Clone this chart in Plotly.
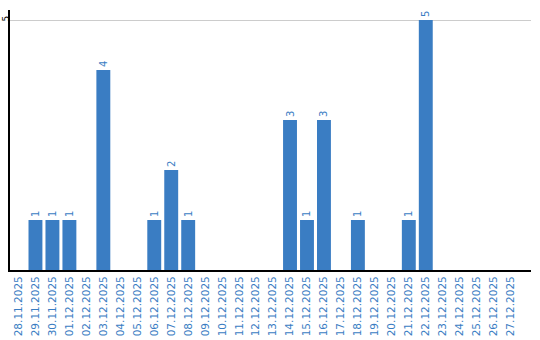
import plotly.graph_objects as go

dates = ["28.11.2025", "29.11.2025", "30.11.2025", "01.12.2025", "02.12.2025", "03.12.2025",
         "04.12.2025", "05.12.2025", "06.12.2025", "07.12.2025", "08.12.2025", "09.12.2025",
         "10.12.2025", "11.12.2025", "12.12.2025", "13.12.2025", "14.12.2025", "15.12.2025",
         "16.12.2025", "17.12.2025", "18.12.2025", "19.12.2025", "20.12.2025", "21.12.2025",
         "22.12.2025", "23.12.2025", "24.12.2025", "25.12.2025", "26.12.2025", "27.12.2025"]
values = [0, 1, 1, 1, 0, 4, 0, 0, 1, 2, 1, 0, 0, 0, 0, 0, 3, 1, 3, 0, 1, 0, 0, 1, 5, 0, 0, 0, 0, 0]

blue = "#3a7dc3"
labels = [str(v) if v > 0 else "" for v in values]

fig = go.Figure(go.Bar(
    x=dates, y=values, marker_color=blue, marker_line_width=0,
    text=labels, textposition="outside", textangle=-90,
    textfont=dict(color=blue, size=10, family="DejaVu Sans"),
    cliponaxis=False,
))
fig.update_layout(
    width=540, height=340,
    margin=dict(l=10, r=9, t=10, b=70, autoexpand=False),
    plot_bgcolor="white", paper_bgcolor="white",
    bargap=0.18, showlegend=False,
    font=dict(family="DejaVu Sans"),
)
fig.update_xaxes(
    type="category", range=[-0.5, 30.2], tickangle=-90, automargin=False,
    tickfont=dict(color=blue, size=10.5, family="DejaVu Sans"),
    showline=True, linecolor="black", linewidth=2, showgrid=False, ticks="",
)
fig.update_yaxes(
    range=[0, 5.2], tickvals=[5], ticktext=["5"], tickangle=-90, automargin=False,
    tickfont=dict(color="black", size=9, family="DejaVu Sans"),
    showline=True, linecolor="black", linewidth=2,
    showgrid=True, gridcolor="#cccccc", gridwidth=1, zeroline=False, ticks="",
    ticklabelstandoff=-5,
)
fig.write_html("out.html")
